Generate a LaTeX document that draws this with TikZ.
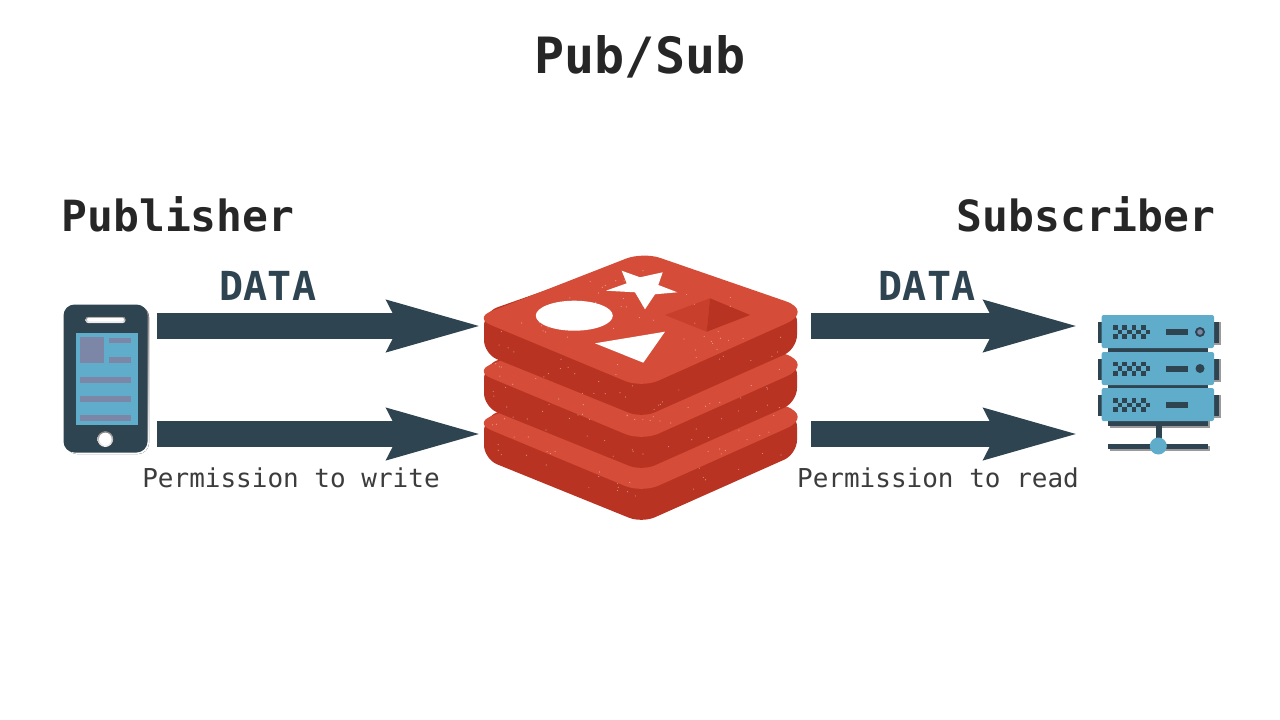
\documentclass[tikz,border=0pt]{standalone}
\usepackage{fontspec}
\setmonofont{DejaVu Sans Mono}
\usetikzlibrary{arrows.meta}

\definecolor{inkdark}{HTML}{262626}
\definecolor{slate}{HTML}{2F4451}
\definecolor{skyblue}{HTML}{5FADCA}
\definecolor{mauve}{HTML}{7C87A8}
\definecolor{redtop}{HTML}{D54C38}
\definecolor{redside}{HTML}{B83321}
\definecolor{redmid}{HTML}{C8402C}
\definecolor{shade}{HTML}{9A9A9A}

\tikzset{
  dataarrow/.style={draw=slate, line width=26pt, -{Stealth[length=93pt,width=46.5pt,inset=9pt]}},
  titletext/.style={font=\ttfamily\bfseries\fontsize{50}{50}\selectfont, text=inkdark, anchor=base, inner sep=0pt},
  roletext/.style={font=\ttfamily\bfseries\fontsize{43}{43}\selectfont, text=inkdark, anchor=base, inner sep=0pt},
  datatext/.style={font=\ttfamily\bfseries\fontsize{40}{40}\selectfont, text=slate, anchor=base, inner sep=0pt},
  permtext/.style={font=\ttfamily\fontsize{26}{26}\selectfont, text=inkdark!90, anchor=base, inner sep=0pt},
  screenline/.style={fill=mauve, draw=none},
  rackunit/.style={fill=skyblue, draw=none, rounded corners=2pt},
  rackdark/.style={fill=slate, draw=none},
  rackshade/.style={fill=shade, draw=none},
}

\newcommand{\redislayer}[1]{
\begin{scope}[shift={(0,#1)}]
\fill[redside, rounded corners=14pt] (484,312) -- (643,256) -- (797,308) -- (797,349) -- (642,418) -- (484,354) -- cycle;
\fill[redtop, rounded corners=18pt] (474,318) -- (643,252) [rounded corners=30pt] -- (814,311) [rounded corners=18pt] -- (642,388) -- cycle;
\end{scope}
}

\newcommand{\rackdots}[1]{
\foreach \col in {0,...,3} {
  \fill[slate] (1113+9.3*\col,#1-7) rectangle ++(4.7,4.7);
  \fill[slate] (1117.7+9.3*\col,#1-2.3) rectangle ++(4.7,4.7);
  \fill[slate] (1113+9.3*\col,#1+2.4) rectangle ++(4.7,4.7);
}
}

\begin{document}
\begin{tikzpicture}[x=1pt,y=-1pt]
\useasboundingbox (0,0) rectangle (1280,720);

\node[titletext] (title) at (640,73) {Pub/Sub};
\node[roletext] (publisher) at (178,231) {Publisher};
\node[roletext] (subscriber) at (1086,231) {Subscriber};

\fill[shade, rounded corners=11pt] (66,306) rectangle (149,454);
\node[fill=slate, rounded corners=11pt, minimum width=84pt, minimum height=148pt, inner sep=0pt] (phone) at (105.5,378.5) {};
\fill[skyblue] (76,333) rectangle (137.5,425);
\fill[shade, rounded corners=2.5pt] (85.5,316.5) rectangle (125.5,323);
\fill[white, rounded corners=2pt] (87,317.5) rectangle (124,321.5);
\fill[screenline] (80,337) rectangle (104,363);
\fill[screenline] (109,338) rectangle (131,343);
\fill[screenline] (109,357) rectangle (131,363);
\foreach \ypos in {377,396,415} {
  \fill[screenline] (80,\ypos) rectangle (131,\ypos+6);
}
\fill[shade] (105.3,439) circle (8);
\fill[white] (105.3,439) circle (6.3);

\node[minimum width=313pt, minimum height=265pt, inner sep=0pt] (redis) at (640.5,386.5) {};
\redislayer{105}
\redislayer{53}
\redislayer{0}
\fill[white] (574.3,315.7) ellipse (38.5 and 15);
\fill[white] (621.7,270.7) -- (640,277.3) -- (662.7,272.3) -- (658.3,285) -- (677.3,292.3) -- (655,294.3) -- (645,309.3) -- (635,292.3) -- (606,290.7) -- (626.7,283.3) -- cycle;
\fill[white] (595,343.3) -- (665,331.7) -- (643.3,362.7) -- cycle;
\fill[redmid] (665,315) -- (710,298.3) -- (706.7,331.7) -- cycle;
\fill[redside] (710,298.3) -- (750,315) -- (706.7,331.7) -- cycle;
\pgfmathsetseed{41}
\foreach \speck in {1,...,170} {
  \pgfmathsetmacro{\sx}{490+300*rnd}
  \pgfmathsetmacro{\st}{abs(\sx-640)/155}
  \pgfmathsetmacro{\sy}{262+60*\st+(250-122*\st)*rnd}
  \fill[white, opacity=.45] (\sx,\sy) circle (.6);
}

\node[minimum width=123pt, minimum height=140pt, inner sep=0pt] (server) at (1159.5,385) {};
\foreach \ytop in {315,352,388} {
  \fill[rackshade] (1214,\ytop+7) rectangle (1221,\ytop+30);
  \fill[rackdark] (1214,\ytop+7) rectangle (1219,\ytop+28);
  \fill[rackdark] (1098,\ytop+7) rectangle (1103,\ytop+28);
}
\fill[rackdark] (1108,348) rectangle (1208,352);
\fill[rackdark] (1108,385) rectangle (1208,388);
\fill[rackshade] (1110,421) rectangle (1210,428);
\fill[rackdark] (1108,421) rectangle (1208,426);
\foreach \ytop in {315,352,388} {
  \fill[rackunit] (1101.7,\ytop) rectangle (1214,\ytop+33);
  \fill[rackdark] (1165.7,\ytop+14) rectangle (1187.7,\ytop+20);
}
\rackdots{332}
\rackdots{368.5}
\rackdots{405}
\fill[slate] (1200,332) circle (5);
\fill[mauve] (1200,332) circle (2.8);
\fill[slate] (1200,368.5) circle (4.5);
\fill[rackdark] (1156,426) rectangle (1161.7,442);
\fill[rackshade] (1110,446) rectangle (1210,451);
\fill[rackdark] (1108,444) rectangle (1208,449);
\fill[skyblue] (1158.3,446) circle (8.5);

\draw[dataarrow, shorten <=9pt] ([yshift=52.5pt]phone.east) -- ([yshift=60.5pt]redis.west);
\draw[dataarrow, shorten <=9pt] ([yshift=-55.5pt]phone.east) -- ([yshift=-47.5pt]redis.west);
\draw[dataarrow, shorten <=14pt, shorten >=17pt] ([yshift=60.5pt]redis.east) -- ([yshift=59pt]server.west);
\draw[dataarrow, shorten <=14pt, shorten >=17pt] ([yshift=-47.5pt]redis.east) -- ([yshift=-49pt]server.west);

\node[datatext] (dataleft) at (268,300) {DATA};
\node[datatext] (dataright) at (927,300) {DATA};
\node[permtext] (permwrite) at (291,487) {Permission to write};
\node[permtext] (permread) at (938,487) {Permission to read};
\end{tikzpicture}
\end{document}
